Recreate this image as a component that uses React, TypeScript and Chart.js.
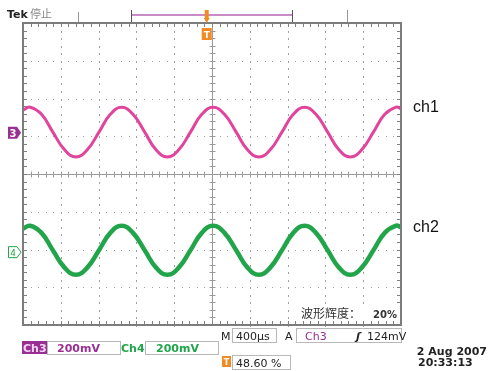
import React, { useEffect, useRef } from "react";
import { Chart, registerables } from "chart.js";
Chart.register(...registerables);

// time axis in divisions (400µs/div), screen spans -5..5 div
const timeDivs = [
  -5.0, -4.81, -4.51, -4.21, -3.9, -3.6, -3.3, -2.99, -2.69, -2.39, -2.09, -1.78, -1.48, -1.18,
  -0.88, -0.57, -0.27, 0.03, 0.33, 0.64, 0.94, 1.24, 1.54, 1.85, 2.15, 2.45, 2.75, 3.06, 3.36,
  3.66, 3.96, 4.27, 4.57, 4.87, 5.0,
];
// ch1 (magenta) vertical position in divisions
const ch1Values = [
  1.69, 1.77, 1.58, 1.11, 0.64, 0.45, 0.64, 1.11, 1.58, 1.77, 1.58, 1.11, 0.64, 0.45, 0.64, 1.11,
  1.58, 1.77, 1.58, 1.11, 0.64, 0.45, 0.64, 1.11, 1.58, 1.77, 1.58, 1.11, 0.64, 0.45, 0.64, 1.11,
  1.58, 1.77, 1.73,
];
// ch2 (green) vertical position in divisions
const ch2Values = [
  -1.45, -1.37, -1.56, -2.02, -2.48, -2.67, -2.48, -2.02, -1.56, -1.37, -1.56, -2.02, -2.48, -2.67,
  -2.48, -2.02, -1.56, -1.37, -1.56, -2.02, -2.48, -2.67, -2.48, -2.02, -1.56, -1.37, -1.56, -2.02,
  -2.48, -2.67, -2.48, -2.02, -1.56, -1.37, -1.41,
];
const xDivLines = [-5, -4, -3, -2, -1, 0, 1, 2, 3, 4, 5];
const yDivLines = [-4, -3, -2, -1, 0, 1, 2, 3, 4];
const seriesNames = ["ch1", "ch2"];
const ch1Marker = 1.09;
const ch2Marker = -2.07;
const triggerPos = -0.14;
const texts = {
  status: "停止",
  brightness: "波形辉度：",
  brightnessVal: "20%",
  timebase: "400µs",
  trigSrc: "Ch3",
  trigLevel: "124mV",
  ch3Scale: "200mV",
  ch4Scale: "200mV",
  trigPct: "48.60 %",
  date: "2 Aug 2007",
  time: "20:33:13",
};

const MAGENTA = "#e0449c";
const GREEN = "#22a54a";
const PURPLE = "#9a2f93";
const ORANGE = "#f08a22";
const SANS = "'DejaVu Sans', sans-serif";

const scopePlugin = {
  id: "scope",
  beforeDraw(chart: any) {
    const { ctx, width, height } = chart;
    ctx.save();
    ctx.fillStyle = "#ffffff";
    ctx.fillRect(0, 0, width, height);
    ctx.restore();
  },
  beforeDatasetsDraw(chart: any) {
    const { ctx, chartArea: a, scales } = chart;
    const xs = scales.x, ys = scales.y;
    ctx.save();
    // dotted grid
    ctx.fillStyle = "#a0a0a0";
    for (const xv of xDivLines) {
      if (xv === -5 || xv === 5 || xv === 0) continue;
      const px = Math.round(xs.getPixelForValue(xv));
      for (let k = -20; k <= 20; k++) {
        const py = ys.getPixelForValue(k / 5);
        ctx.fillRect(px, Math.round(py), 1, 2);
      }
    }
    for (const yv of yDivLines) {
      if (yv === -4 || yv === 4 || yv === 0) continue;
      const py = Math.round(ys.getPixelForValue(yv));
      for (let k = -25; k <= 25; k++) {
        const px = xs.getPixelForValue(k / 5);
        ctx.fillRect(Math.round(px), py, 1, 1);
      }
    }
    // center crosshair
    ctx.strokeStyle = "#9a9a9a";
    ctx.lineWidth = 1;
    const cx = Math.round(xs.getPixelForValue(0)) + 0.5;
    const cy = Math.round(ys.getPixelForValue(0)) + 0.5;
    ctx.beginPath();
    ctx.moveTo(a.left, cy); ctx.lineTo(a.right, cy);
    ctx.moveTo(cx, a.top); ctx.lineTo(cx, a.bottom);
    for (let k = -25; k <= 25; k++) {
      const px = Math.round(xs.getPixelForValue(k / 5)) + 0.5;
      ctx.moveTo(px, cy - 3); ctx.lineTo(px, cy + 3);
    }
    for (let k = -20; k <= 20; k++) {
      const py = Math.round(ys.getPixelForValue(k / 5)) + 0.5;
      ctx.moveTo(cx - 3, py); ctx.lineTo(cx + 3, py);
    }
    ctx.stroke();
    // border ticks
    ctx.strokeStyle = "#808080";
    ctx.beginPath();
    for (let k = -25; k <= 25; k++) {
      const px = Math.round(xs.getPixelForValue(k / 5)) + 0.5;
      ctx.moveTo(px, a.top); ctx.lineTo(px, a.top + 4);
      ctx.moveTo(px, a.bottom); ctx.lineTo(px, a.bottom - 4);
    }
    for (let k = -20; k <= 20; k++) {
      const py = Math.round(ys.getPixelForValue(k / 5)) + 0.5;
      ctx.moveTo(a.left, py); ctx.lineTo(a.left + 4, py);
      ctx.moveTo(a.right, py); ctx.lineTo(a.right - 4, py);
    }
    ctx.stroke();
    ctx.restore();
  },
  afterDraw(chart: any) {
    const { ctx, chartArea: a, scales } = chart;
    const xs = scales.x, ys = scales.y;
    ctx.save();
    // border
    ctx.strokeStyle = "#7c7c7c";
    ctx.lineWidth = 2;
    ctx.strokeRect(a.left, a.top, a.right - a.left, a.bottom - a.top);

    ctx.textBaseline = "alphabetic";
    // Tek 停止
    ctx.fillStyle = "#222";
    ctx.font = "bold 11px " + SANS;
    ctx.fillText("Tek", 7, 18);
    ctx.fillStyle = "#888";
    ctx.font = "11px 'Noto Sans CJK SC'";
    ctx.fillText(texts.status, 30, 18);

    // top record bar
    ctx.strokeStyle = "#999";
    ctx.lineWidth = 1;
    ctx.beginPath();
    ctx.moveTo(78.5, 12); ctx.lineTo(78.5, 22);
    ctx.moveTo(347.5, 10); ctx.lineTo(347.5, 22);
    ctx.stroke();
    ctx.strokeStyle = "#c98cc8";
    ctx.lineWidth = 2;
    ctx.beginPath();
    ctx.moveTo(131, 15); ctx.lineTo(292, 15);
    ctx.stroke();
    ctx.strokeStyle = "#555";
    ctx.lineWidth = 1;
    ctx.beginPath();
    ctx.moveTo(131.5, 10); ctx.lineTo(131.5, 22);
    ctx.moveTo(292.5, 10); ctx.lineTo(292.5, 22);
    ctx.stroke();

    // trigger markers
    const tx = xs.getPixelForValue(triggerPos);
    ctx.fillStyle = ORANGE;
    ctx.fillRect(tx - 2, 10, 4, 8);
    ctx.beginPath();
    ctx.moveTo(tx - 3, 18); ctx.lineTo(tx + 3, 18); ctx.lineTo(tx, 23); ctx.closePath();
    ctx.fill();
    ctx.fillRect(tx - 5, 28, 10, 12);
    ctx.fillStyle = "#fff";
    ctx.font = "bold 9px " + SANS;
    ctx.textAlign = "center";
    ctx.fillText("T", tx, 38);

    // channel markers left
    const m1 = ys.getPixelForValue(ch1Marker);
    ctx.fillStyle = PURPLE;
    ctx.beginPath();
    ctx.moveTo(8, m1 - 6); ctx.lineTo(17, m1 - 6); ctx.lineTo(21, m1); ctx.lineTo(17, m1 + 6); ctx.lineTo(8, m1 + 6);
    ctx.closePath(); ctx.fill();
    ctx.fillStyle = "#fff";
    ctx.font = "bold 10px " + SANS;
    ctx.fillText("3", 13, m1 + 4);
    const m2 = ys.getPixelForValue(ch2Marker);
    ctx.strokeStyle = GREEN;
    ctx.lineWidth = 1;
    ctx.fillStyle = "#fff";
    ctx.beginPath();
    ctx.moveTo(8.5, m2 - 5.5); ctx.lineTo(17, m2 - 5.5); ctx.lineTo(21, m2); ctx.lineTo(17, m2 + 5.5); ctx.lineTo(8.5, m2 + 5.5);
    ctx.closePath(); ctx.fill(); ctx.stroke();
    ctx.fillStyle = GREEN;
    ctx.font = "9px " + SANS;
    ctx.fillText("4", 13, m2 + 4);

    // series names on the right
    ctx.textAlign = "left";
    ctx.fillStyle = "#111";
    ctx.font = "16px 'Liberation Sans', Arial, sans-serif";
    ctx.fillText(seriesNames[0], 413, 112);
    ctx.fillText(seriesNames[1], 413, 232);

    // brightness readout
    ctx.fillStyle = "#fff";
    ctx.fillRect(298, 305, a.right - 299, 15);
    ctx.fillStyle = "#333";
    ctx.font = "12px 'Noto Sans CJK SC'";
    ctx.fillText(texts.brightness, 301, 318);
    ctx.font = "bold 10px " + SANS;
    ctx.textAlign = "right";
    ctx.fillText(texts.brightnessVal, 397, 318);

    // bottom readouts
    const box = (x1: number, y1: number, x2: number, y2: number) => {
      ctx.strokeStyle = "#b8b8b8";
      ctx.lineWidth = 1;
      ctx.strokeRect(x1 + 0.5, y1 + 0.5, x2 - x1, y2 - y1);
    };
    ctx.textAlign = "left";
    ctx.font = "11px " + SANS;
    ctx.fillStyle = "#222";
    ctx.fillText("M", 221, 340);
    box(232, 328, 276, 342);
    ctx.fillText(texts.timebase, 236, 340);
    ctx.fillText("A", 285, 340);
    box(296, 328, 401, 342);
    ctx.fillStyle = PURPLE;
    ctx.fillText(texts.trigSrc, 305, 340);
    ctx.fillStyle = "#222";
    ctx.font = "italic bold 11px " + SANS;
    ctx.fillText("ʃ", 356, 340);
    ctx.font = "11px " + SANS;
    ctx.fillText(texts.trigLevel, 367, 340);

    // row 2
    ctx.fillStyle = PURPLE;
    ctx.fillRect(22, 341, 25, 13);
    ctx.fillStyle = "#f0d8f0";
    ctx.font = "bold 11px " + SANS;
    ctx.fillText("Ch3", 23, 352);
    box(47, 341, 120, 354);
    ctx.fillStyle = PURPLE;
    ctx.fillText(texts.ch3Scale, 57, 352);
    ctx.fillStyle = GREEN;
    ctx.fillText("Ch4", 121, 352);
    box(145, 341, 218, 354);
    ctx.fillText(texts.ch4Scale, 156, 352);

    // row 3
    ctx.fillStyle = ORANGE;
    ctx.fillRect(222, 356, 9, 11);
    ctx.fillStyle = "#fff";
    ctx.font = "bold 8px " + SANS;
    ctx.textAlign = "center";
    ctx.fillText("T", 226.5, 365);
    box(232, 355, 290, 369);
    ctx.textAlign = "left";
    ctx.fillStyle = "#222";
    ctx.font = "11px " + SANS;
    ctx.fillText(texts.trigPct, 236, 367);

    // date/time
    ctx.font = "bold 11px " + SANS;
    ctx.fillStyle = "#222";
    ctx.textAlign = "right";
    ctx.fillText(texts.date, 487, 355);
    ctx.textAlign = "left";
    ctx.fillText(texts.time, 418, 366);
    ctx.restore();
  },
};

export default function App() {
  const ref = useRef<HTMLCanvasElement>(null);
  useEffect(() => {
    document.body.style.margin = "0";
    const chart = new Chart(ref.current!, {
      type: "line",
      data: {
        datasets: [
          {
            label: seriesNames[0],
            data: timeDivs.map((t, i) => ({ x: t, y: ch1Values[i] })),
            borderColor: MAGENTA,
            borderWidth: 3,
            pointRadius: 0,
            tension: 0.45,
            fill: false,
          },
          {
            label: seriesNames[1],
            data: timeDivs.map((t, i) => ({ x: t, y: ch2Values[i] })),
            borderColor: GREEN,
            borderWidth: 4.5,
            pointRadius: 0,
            tension: 0.45,
            fill: false,
          },
        ],
      },
      options: {
        responsive: false,
        animation: false,
        layout: { padding: { left: 23, top: 23, right: 88, bottom: 46 } },
        plugins: { legend: { display: false }, tooltip: { enabled: false } },
        scales: {
          x: { type: "linear", min: -5, max: 5, display: false },
          y: { type: "linear", min: -4, max: 4, display: false },
        },
      },
      plugins: [scopePlugin],
    });
    return () => chart.destroy();
  }, []);
  return (
    <div style={{ position: "fixed", left: 0, top: 0, width: 489, height: 371 }}>
      <canvas ref={ref} width={489} height={371} style={{ display: "block" }} />
    </div>
  );
}
